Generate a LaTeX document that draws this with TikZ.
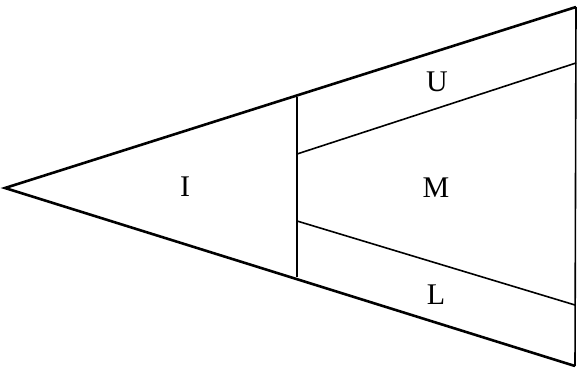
\documentclass[tikz,border=0pt]{standalone}
\usepackage{fontspec}
\setmainfont{Liberation Serif}
\usepackage{tikz}

\begin{document}
\begin{tikzpicture}[x=1pt, y=-1pt, every node/.style={font=\fontsize{30}{36}\selectfont}, outer/.style={line width=2.6pt, line join=miter}, inner/.style={line width=1.6pt}]
	\useasboundingbox (0,0) rectangle (577,369);
	\coordinate (apex) at (5,188);
	\coordinate (tr) at (576,7);
	\coordinate (br) at (575,366);
	\coordinate (vt) at (297,97);
	\coordinate (vb) at (297,277);
	\coordinate (ua) at (297,154);
	\coordinate (ub) at (576,63);
	\coordinate (la) at (297,221);
	\coordinate (lb) at (575,305);
	\draw[outer] (tr) -- (apex) -- (br);
	\draw[inner] (tr) -- (br);
	\draw[inner] (vt) -- (vb);
	\draw[inner] (ua) -- (ub);
	\draw[inner] (la) -- (lb);
	\node (I) at (185,187) {I};
	\node (U) at (437,82) {U};
	\node (M) at (436,188) {M};
	\node (L) at (436,295) {L};
\end{tikzpicture}
\end{document}
